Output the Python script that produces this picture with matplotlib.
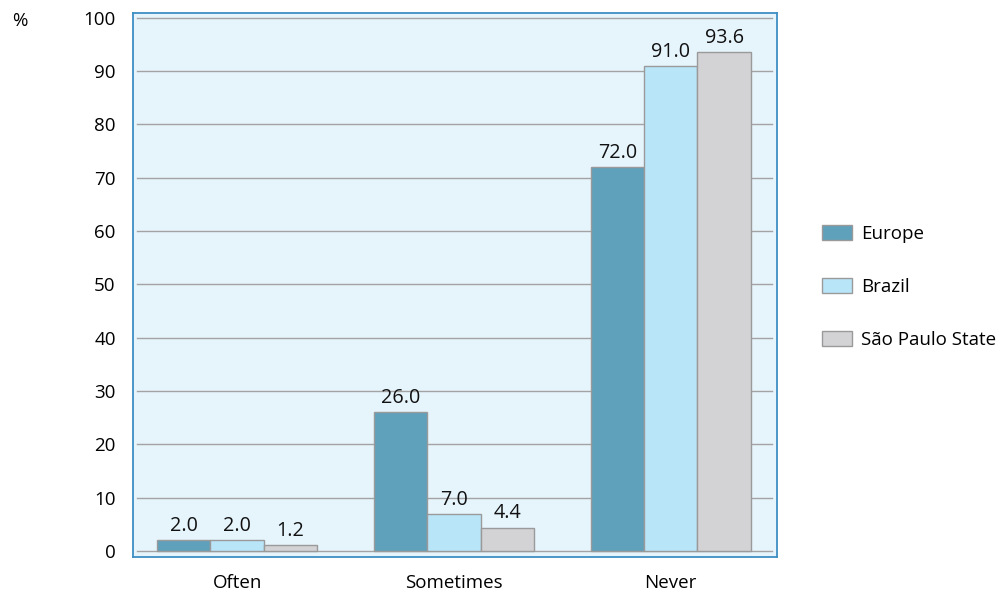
import matplotlib
matplotlib.use("Agg")
import matplotlib.pyplot as plt
import numpy as np
from matplotlib.patches import Patch

categories = ["Often", "Sometimes", "Never"]
series_names = ["Europe", "Brazil", "São Paulo State"]
europe = [2.0, 26.0, 72.0]
brazil = [2.0, 7.0, 91.0]
sao_paulo = [1.2, 4.4, 93.6]
y_ticks = [0, 10, 20, 30, 40, 50, 60, 70, 80, 90, 100]

colors = ["#5fa0bb", "#b9e5f8", "#d3d3d6"]
edge = "#9a9a9a"

plt.rcParams["font.family"] = ["Open Sans", "DejaVu Sans"]
fs = 13.5

fig = plt.figure(figsize=(10.03, 5.95), dpi=100)
ax = fig.add_axes([0.1326, 0.0639, 0.6421, 0.9143])
ax.set_facecolor("#e6f4fc")

x = np.arange(len(categories))
w = 0.2465
for i, (vals, col) in enumerate(zip([europe, brazil, sao_paulo], colors)):
    pos = x + (i - 1) * w
    bars = ax.bar(pos, vals, width=w, color=col, edgecolor=edge, linewidth=1.0, zorder=3)
    for b, v in zip(bars, vals):
        ax.annotate(f"{v:.1f}", (b.get_x() + b.get_width() / 2, v),
                    xytext=(0, 3), textcoords="offset points",
                    ha="center", va="bottom", fontsize=14.2, color="#111111", zorder=4)

for t in y_ticks:
    ax.axhline(t, xmin=0.006, xmax=0.992, color="#a3a3a3", linewidth=1.0, zorder=1)

ax.set_xlim(-0.48, 2.49)
ax.set_ylim(-1.1, 100.9)
ax.set_yticks(y_ticks)
ax.set_yticklabels([str(t) for t in y_ticks], fontsize=fs)
ax.set_xticks(x)
ax.set_xticklabels(categories, fontsize=fs)
ax.tick_params(axis="y", length=0, pad=12.5)
ax.tick_params(axis="x", length=0, pad=12)
for s in ax.spines.values():
    s.set_color("#3d8fc3")
    s.set_linewidth(1.3)

fig.text(0.012, 0.965, "%", fontsize=fs, ha="left", va="center")

handles = [Patch(facecolor=c, edgecolor=edge, linewidth=1.0) for c in colors]
fig.legend(handles, series_names, loc="upper left", bbox_to_anchor=(0.8125, 0.635),
           frameon=False, fontsize=fs, handlelength=1.6, handleheight=0.85,
           handletextpad=0.45, labelspacing=1.87, borderaxespad=0)

fig.savefig("out.png", dpi=100)
